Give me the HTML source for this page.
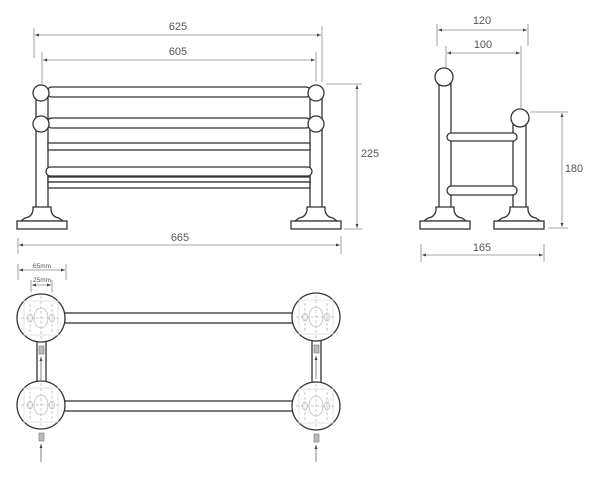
<!DOCTYPE html>
<html><head><style>html,body{margin:0;padding:0;background:#fff}svg{display:block}</style></head><body>
<svg width="600" height="477" viewBox="0 0 600 477" xmlns="http://www.w3.org/2000/svg" font-family="Liberation Sans, sans-serif">
<defs>
<marker id="a" viewBox="0 0 6 6" refX="6" refY="3" markerWidth="5" markerHeight="5" orient="auto-start-reverse"><path d="M0,0.8 L6,3 L0,5.2z" fill="#444"/></marker>
<g id="flareL"><path d="M-9,207 L9,207 L9,210 Q10,217 17,218 L21,221 L-21,221 L-17,218 Q-10,217 -9,210 Z" fill="#fff" stroke="#333" stroke-width="1.3"/><rect x="-25" y="221" width="50" height="8" fill="#fff" stroke="#333" stroke-width="1.3"/></g>
<g id="hole" stroke="#bbb" stroke-width="0.8" fill="none">
<rect x="-17" y="-17" width="34" height="34" stroke="#ddd"/>
<ellipse cx="0" cy="0" rx="7" ry="10"/>
<ellipse cx="-11" cy="0" rx="2.5" ry="4"/><ellipse cx="11" cy="0" rx="2.5" ry="4"/>
<path d="M0,-22 V22 M-20,0 H20 M-11,-14 V14 M11,-14 V14" stroke-dasharray="3,2"/>
</g>
</defs>
<g fill="none" stroke="#333" stroke-width="1.3">
<rect x="36" y="95" width="12" height="114" fill="#fff"/>
<rect x="310" y="95" width="12" height="114" fill="#fff"/>
<rect x="47" y="87" width="264" height="10" rx="5" fill="#fff"/>
<rect x="47" y="118" width="264" height="10" rx="5" fill="#fff"/>
<rect x="48" y="143" width="262" height="7" fill="#fff"/>
<rect x="46" y="167" width="266" height="9" rx="4.5" fill="#fff"/>
<rect x="48" y="177" width="262" height="5" fill="#fff"/>
<rect x="48" y="182" width="262" height="6" fill="#fff"/>
<circle cx="41" cy="93" r="8" fill="#fff"/><circle cx="316" cy="93" r="8" fill="#fff"/>
<circle cx="41" cy="124" r="8" fill="#fff"/><circle cx="316" cy="124" r="8" fill="#fff"/>
<use href="#flareL" x="42"/><use href="#flareL" x="316"/>
<rect x="439" y="84" width="12" height="125" fill="#fff"/>
<rect x="513" y="125" width="13" height="84" fill="#fff"/>
<rect x="447" y="133" width="70" height="8" rx="4" fill="#fff"/>
<rect x="447" y="186" width="70" height="9" rx="4.5" fill="#fff"/>
<circle cx="444" cy="77" r="9" fill="#fff"/><circle cx="520" cy="118" r="9" fill="#fff"/>
<use href="#flareL" x="445"/><use href="#flareL" x="519"/>
<rect x="37" y="340" width="9" height="44" fill="#fff"/>
<rect x="312" y="340" width="9" height="44" fill="#fff"/>
<rect x="60" y="313" width="240" height="10" fill="#fff"/>
<rect x="60" y="401" width="240" height="10" fill="#fff"/>
<circle cx="41" cy="318" r="24" fill="#fff"/><circle cx="316" cy="317" r="24" fill="#fff"/>
<circle cx="41" cy="405" r="24" fill="#fff"/><circle cx="316" cy="406" r="24" fill="#fff"/>
</g>
<use href="#hole" x="41" y="318"/><use href="#hole" x="316" y="317"/>
<use href="#hole" x="41" y="405"/><use href="#hole" x="316" y="406"/>
<g fill="#bbb" stroke="#777" stroke-width="0.6">
<rect x="39" y="346" width="5" height="8"/><rect x="314" y="345" width="5" height="8"/>
<rect x="39" y="433" width="5" height="8"/><rect x="314" y="434" width="5" height="8"/>
</g>
<g stroke="#666" stroke-width="0.8" fill="none">
<path d="M41,380 V357" marker-end="url(#a)"/><path d="M316,379 V356" marker-end="url(#a)"/>
<path d="M41,462 V444" marker-end="url(#a)"/><path d="M316,462 V445" marker-end="url(#a)"/>
</g>
<g stroke="#888" stroke-width="0.8" fill="none">
<path d="M34,28 V58 M322,26 V82 M42,52 V84 M316,52 V82"/>
<path d="M35,35 H321" marker-start="url(#a)" marker-end="url(#a)"/>
<path d="M43,60 H315" marker-start="url(#a)" marker-end="url(#a)"/>
<path d="M326,84 H362 M344,229 H362"/>
<path d="M357,85 V228" marker-start="url(#a)" marker-end="url(#a)"/>
<path d="M18,238 V254 M341,236 V254"/>
<path d="M19,245 H340" marker-start="url(#a)" marker-end="url(#a)"/>
<path d="M437,24 V46 M528,24 V46 M446,46 V68 M521,46 V110"/>
<path d="M438,30 H527" marker-start="url(#a)" marker-end="url(#a)"/>
<path d="M447,53 H520" marker-start="url(#a)" marker-end="url(#a)"/>
<path d="M530,112 H568 M548,228 H568"/>
<path d="M562,113 V227" marker-start="url(#a)" marker-end="url(#a)"/>
<path d="M421,244 V262 M544,244 V262"/>
<path d="M422,255 H543" marker-start="url(#a)" marker-end="url(#a)"/>
<path d="M18,264 V280 M66,264 V280 M31,280 V292 M52,280 V292"/>
<path d="M19,270 H65" marker-start="url(#a)" marker-end="url(#a)"/>
<path d="M32,285 H51" marker-start="url(#a)" marker-end="url(#a)"/>
</g>
<g fill="#555" font-size="11" text-anchor="middle">
<text x="178" y="30">625</text>
<text x="178" y="55">605</text>
<text x="370" y="157">225</text>
<text x="180" y="241">665</text>
<text x="482" y="24">120</text>
<text x="483" y="48">100</text>
<text x="574" y="172">180</text>
<text x="482" y="251">165</text>
<text x="42" y="268" font-size="6.5">65mm</text>
<text x="42" y="282" font-size="6.5">25mm</text>
</g>
</svg>
</body></html>
